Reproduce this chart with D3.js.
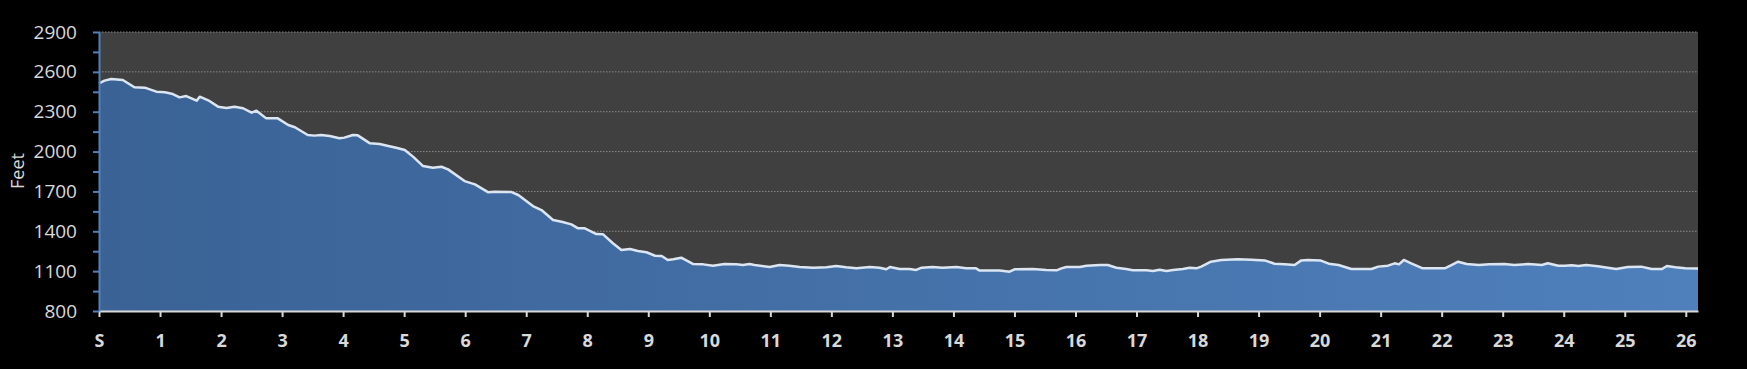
<!DOCTYPE html>
<html>
<head>
<meta charset="utf-8">
<script src="https://cdn.jsdelivr.net/npm/d3@7"></script>
<style>
  html, body { margin: 0; padding: 0; background: #000; }
  svg { display: block; font-family: "Open Sans", sans-serif; }
</style>
</head>
<body>
<div id="chart"></div>
<script>
// distance along the course (miles)
const miles = [
  0, 0.09, 0.2, 0.39, 0.58, 0.75, 0.94, 1.08, 1.21, 1.32,
  1.43, 1.6, 1.65, 1.79, 1.95, 2.09, 2.22, 2.36, 2.5, 2.58,
  2.74, 2.93, 3.1, 3.21, 3.42, 3.53, 3.64, 3.78, 3.94, 4.02,
  4.16, 4.24, 4.44, 4.6, 4.74, 4.87, 5.01, 5.15, 5.31, 5.47,
  5.61, 5.72, 5.99, 6.16, 6.38, 6.48, 6.76, 6.87, 7.11, 7.25,
  7.44, 7.58, 7.74, 7.85, 7.96, 8.15, 8.26, 8.42, 8.56, 8.7,
  8.83, 8.97, 9.11, 9.22, 9.32, 9.41, 9.54, 9.73, 9.9, 10.06,
  10.25, 10.44, 10.55, 10.66, 10.74, 10.99, 11.15, 11.31, 11.48, 11.7,
  11.92, 12.08, 12.24, 12.41, 12.63, 12.79, 12.9, 12.96, 13.12, 13.28,
  13.39, 13.48, 13.66, 13.82, 14.05, 14.21, 14.37, 14.43, 14.76, 14.92,
  15.0, 15.3, 15.52, 15.69, 15.77, 15.85, 16.07, 16.18, 16.4, 16.53,
  16.67, 16.83, 16.94, 17.16, 17.27, 17.38, 17.49, 17.6, 17.76, 17.87,
  17.98, 18.06, 18.22, 18.39, 18.66, 18.88, 19.1, 19.26, 19.43, 19.59,
  19.7, 19.81, 20.01, 20.15, 20.31, 20.52, 20.85, 20.96, 21.12, 21.23,
  21.3, 21.38, 21.5, 21.69, 22.05, 22.16, 22.27, 22.41, 22.61, 22.78,
  23.03, 23.19, 23.42, 23.64, 23.74, 23.91, 24.02, 24.13, 24.24, 24.37,
  24.56, 24.72, 24.86, 25.05, 25.27, 25.44, 25.61, 25.69, 25.83, 25.99, 26.2
];

// elevation (feet)
const feet = [
  2514, 2534, 2546, 2539, 2484, 2481, 2451, 2446, 2433, 2408,
  2418, 2383, 2413, 2386, 2338, 2328, 2338, 2326, 2293, 2308,
  2250, 2250, 2200, 2183, 2125, 2120, 2125, 2117, 2100, 2105,
  2125, 2122, 2062, 2057, 2042, 2029, 2012, 1960, 1891, 1879,
  1886, 1866, 1778, 1753, 1693, 1698, 1695, 1673, 1590, 1560,
  1485, 1472, 1452, 1422, 1422, 1379, 1377, 1310, 1259, 1267,
  1252, 1242, 1216, 1214, 1184, 1189, 1201, 1154, 1151, 1141,
  1154, 1151, 1146, 1154, 1146, 1131, 1146, 1141, 1131, 1126,
  1129, 1139, 1129, 1121, 1131, 1126, 1114, 1131, 1116, 1116,
  1109, 1126, 1131, 1126, 1131, 1121, 1121, 1104, 1104, 1096,
  1114, 1116, 1109, 1106, 1121, 1131, 1131, 1141, 1146, 1146,
  1126, 1116, 1106, 1106, 1101, 1111, 1101, 1109, 1116, 1126,
  1121, 1134, 1171, 1184, 1189, 1186, 1181, 1156, 1151, 1146,
  1181, 1184, 1181, 1156, 1146, 1116, 1116, 1134, 1141, 1159,
  1151, 1184, 1159, 1121, 1121, 1146, 1171, 1154, 1146, 1151,
  1154, 1146, 1154, 1146, 1159, 1141, 1141, 1144, 1139, 1146,
  1136, 1126, 1116, 1131, 1134, 1116, 1116, 1139, 1129, 1121, 1119
];

const mileTicks = d3.range(0, 27);          // S, 1 .. 26
const feetTicks = d3.range(800, 2901, 300);  // labelled ticks
const feetMinor = d3.range(800, 2901, 150);  // every tick mark

const width = 1747;
const height = 369;
const margin = { top: 32, right: 49, bottom: 58, left: 99 };

const data = miles.map((m, i) => ({ m: m, f: feet[i] }));

const svg = d3.select('#chart')
  .append('svg')
  .attr('width', width)
  .attr('height', height);

const x = d3.scaleLinear()
  .domain([0, 26.2])
  .range([margin.left, width - margin.right]);

const y = d3.scaleLinear()
  .domain([800, 2900])
  .range([height - margin.bottom, margin.top]);

// gradient for the area, darker on the left
const grad = svg.append('defs').append('linearGradient')
  .attr('id', 'fillGrad')
  .attr('x1', '0%').attr('x2', '100%')
  .attr('y1', '0%').attr('y2', '0%');
grad.append('stop').attr('offset', '0%').attr('stop-color', '#3a6295');
grad.append('stop').attr('offset', '100%').attr('stop-color', '#4f80bc');

// plot background
svg.append('rect')
  .attr('x', x(0))
  .attr('y', y(2900))
  .attr('width', x(26.2) - x(0))
  .attr('height', y(800) - y(2900))
  .attr('fill', '#404040');

// dotted gridlines
svg.append('g')
  .selectAll('line')
  .data(feetTicks.filter(d => d > 800))
  .enter()
  .append('line')
  .attr('x1', x(0))
  .attr('x2', x(26.2))
  .attr('y1', d => y(d))
  .attr('y2', d => y(d))
  .attr('stroke', '#8a8a8a')
  .attr('stroke-width', 1)
  .attr('stroke-dasharray', '1.5,1.5');

const area = d3.area()
  .x(d => x(d.m))
  .y0(y(800))
  .y1(d => y(d.f));

const line = d3.line()
  .x(d => x(d.m))
  .y(d => y(d.f));

svg.append('path')
  .datum(data)
  .attr('d', area)
  .attr('fill', 'url(#fillGrad)');

svg.append('path')
  .datum(data)
  .attr('d', line)
  .attr('fill', 'none')
  .attr('stroke', '#dce6f2')
  .attr('stroke-width', 2.5)
  .attr('stroke-linejoin', 'round');

// x axis
const xAxis = svg.append('g')
  .attr('transform', `translate(0,${y(800)})`)
  .call(d3.axisBottom(x)
    .tickValues(mileTicks)
    .tickFormat(d => d === 0 ? 'S' : d)
    .tickSize(6)
    .tickSizeOuter(0));
xAxis.select('.domain').attr('stroke', '#d9d9d9').attr('stroke-width', 2);
xAxis.selectAll('.tick line').attr('stroke', '#d9d9d9').attr('stroke-width', 2);
xAxis.selectAll('.tick text')
  .attr('y', 36)
  .attr('dy', 0)
  .attr('fill', '#d9d9d9')
  .style('font-family', '"Open Sans", sans-serif')
  .style('font-size', '18px')
  .style('font-weight', 'bold');

// y axis
const yAxis = svg.append('g')
  .attr('transform', `translate(${x(0)},0)`)
  .call(d3.axisLeft(y)
    .tickValues(feetMinor)
    .tickFormat(d => (d - 800) % 300 === 0 ? d : '')
    .tickSize(6)
    .tickPadding(16)
    .tickSizeOuter(0));
yAxis.select('.domain').attr('stroke', '#4f81bd').attr('stroke-width', 2);
yAxis.selectAll('.tick line').attr('stroke', '#4f81bd').attr('stroke-width', 2);
yAxis.selectAll('.tick text')
  .attr('fill', '#d9d9d9')
  .style('font-family', '"Open Sans", sans-serif')
  .style('font-size', '19px');

// axis title
svg.append('text')
  .text('Feet')
  .attr('transform', 'translate(24,171) rotate(-90)')
  .attr('text-anchor', 'middle')
  .attr('fill', '#d9d9d9')
  .style('font-size', '18px');
</script>
</body>
</html>
